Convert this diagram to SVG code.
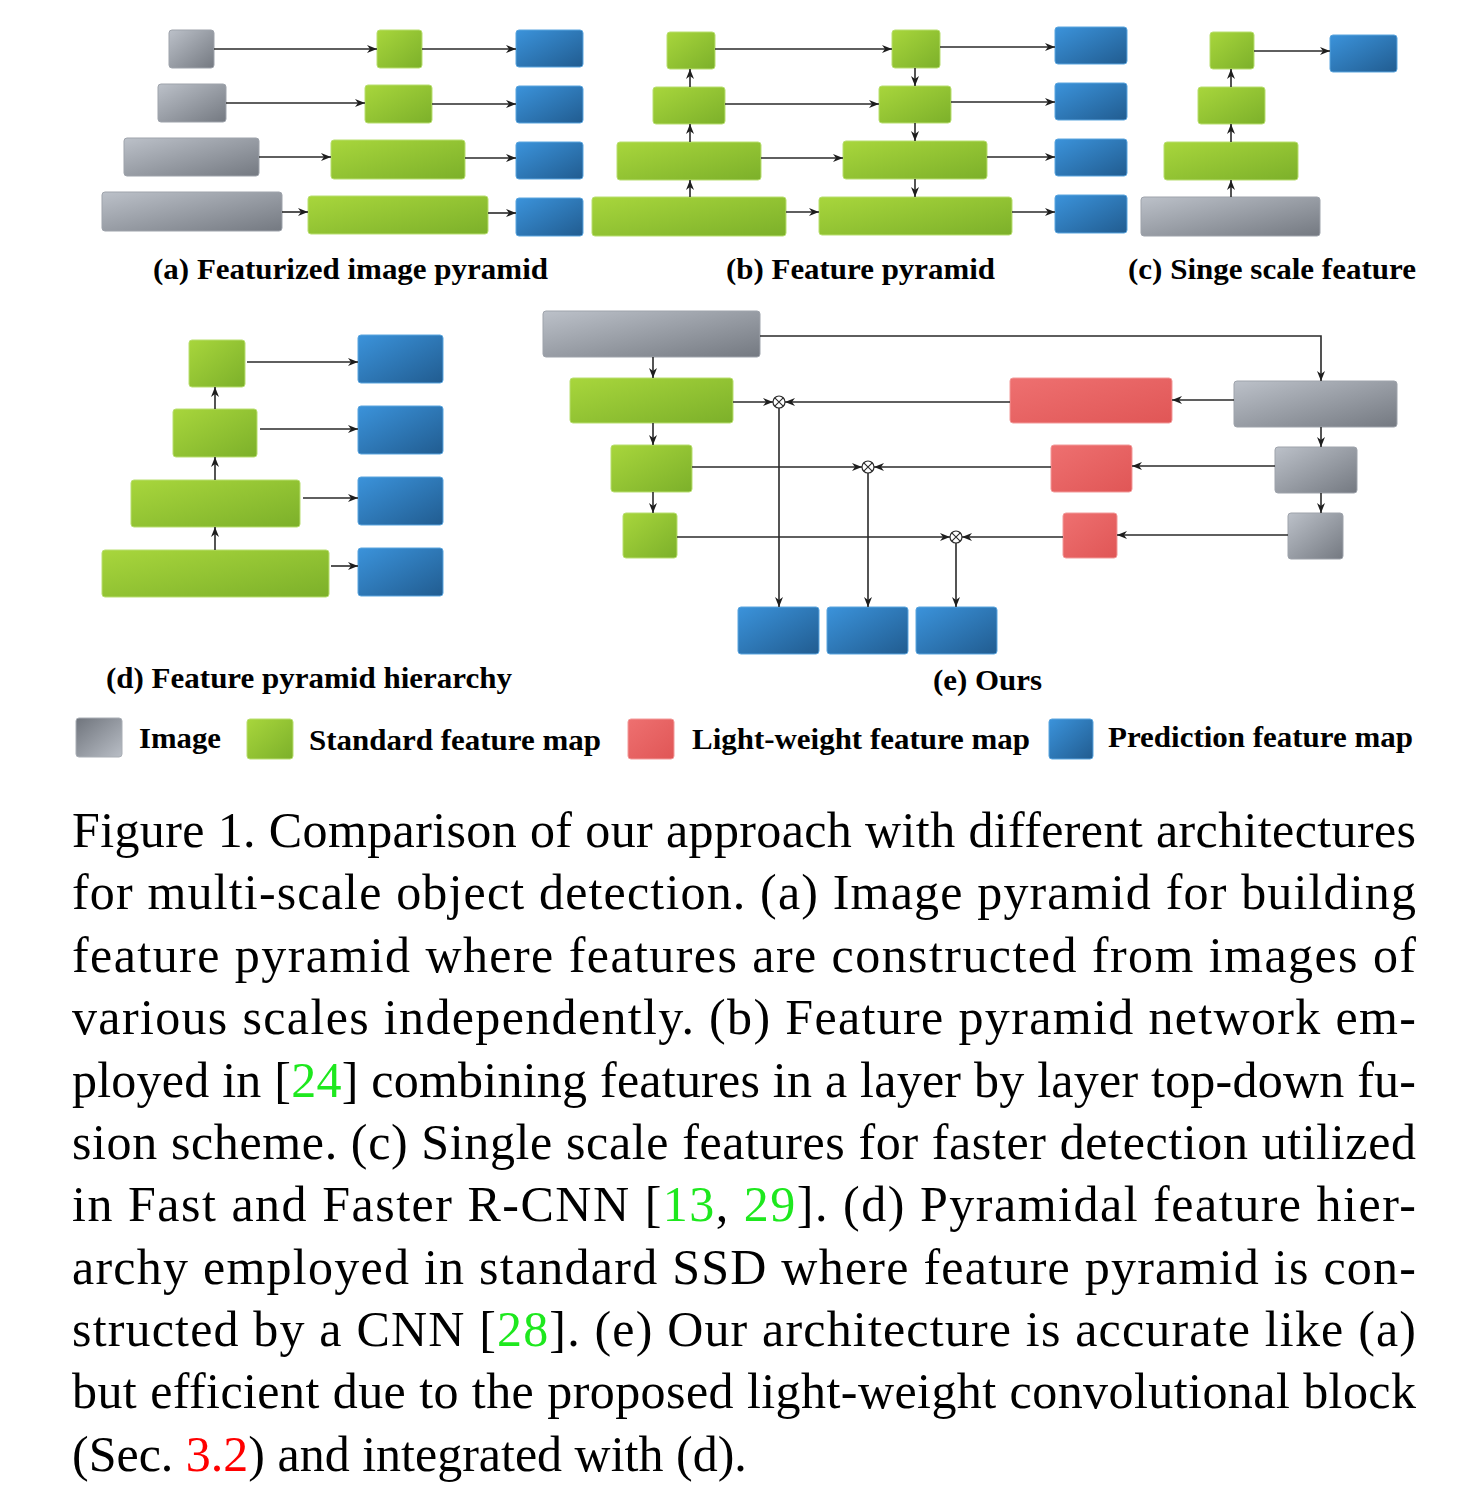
<svg xmlns="http://www.w3.org/2000/svg" width="1480" height="1498" viewBox="0 0 1480 1498">
<defs>
<linearGradient id="gGray" x1="0" y1="0" x2="1" y2="1"><stop offset="0" stop-color="#bcc1c9"/><stop offset="1" stop-color="#747981"/></linearGradient>
<linearGradient id="gGreen" x1="0" y1="0" x2="1" y2="1"><stop offset="0" stop-color="#a8d63c"/><stop offset="1" stop-color="#7cb02a"/></linearGradient>
<linearGradient id="gBlue" x1="0" y1="0" x2="1" y2="1"><stop offset="0" stop-color="#3b93db"/><stop offset="1" stop-color="#215c90"/></linearGradient>
<linearGradient id="gRed" x1="0" y1="0" x2="1" y2="1"><stop offset="0" stop-color="#ee7070"/><stop offset="1" stop-color="#e05656"/></linearGradient>
<linearGradient id="gGrayL" x1="0" y1="0" x2="1" y2="1"><stop offset="0" stop-color="#6f747c"/><stop offset="1" stop-color="#b9bec6"/></linearGradient>
<marker id="ah" viewBox="0 0 10 10" refX="10" refY="5" markerWidth="10" markerHeight="10" markerUnits="userSpaceOnUse" orient="auto"><path d="M0,1 L10,5 L0,9 L3,5 z" fill="#1e1e1e"/></marker>
</defs>
<style>
.gray{fill:url(#gGray);stroke:#9ea3ab;stroke-width:1}
.green{fill:url(#gGreen);stroke:#b8de70;stroke-width:1}
.blue{fill:url(#gBlue);stroke:#5aa5de;stroke-width:1}
.red{fill:url(#gRed);stroke:#f29a9a;stroke-width:1}
.ln{stroke:#2a2a2a;stroke-width:1.6;fill:none}
.ar{stroke:#2a2a2a;stroke-width:1.6;fill:none;marker-end:url(#ah)}
.ot{stroke:#2a2a2a;stroke-width:1.2;fill:#fff}
.lbl{font-family:"Liberation Serif","Times New Roman",serif;font-weight:bold;font-size:30px;fill:#000}
.cap{font-family:"Liberation Serif","Times New Roman",serif;font-size:50px;fill:#000}
.gr{fill:#1ee81e}
.rd{fill:#ff0000}
</style>
<rect width="1480" height="1498" fill="#fff"/>

<!-- Panel (a) -->
<g id="a-img1"><rect class="gray" x="169" y="30" width="45" height="38" rx="3"/></g>
<g id="a-img2"><rect class="gray" x="158" y="84" width="68" height="38" rx="3"/></g>
<g id="a-img3"><rect class="gray" x="124" y="138" width="135" height="38" rx="3"/></g>
<g id="a-img4"><rect class="gray" x="102" y="192" width="180" height="39" rx="3"/></g>
<g id="a-f1"><rect class="green" x="377" y="30" width="45" height="38" rx="3"/></g>
<g id="a-f2"><rect class="green" x="365" y="85" width="67" height="38" rx="3"/></g>
<g id="a-f3"><rect class="green" x="331" y="140" width="134" height="39" rx="3"/></g>
<g id="a-f4"><rect class="green" x="308" y="196" width="180" height="38" rx="3"/></g>
<g id="a-p1"><rect class="blue" x="516" y="30" width="67" height="37" rx="3"/></g>
<g id="a-p2"><rect class="blue" x="516" y="86" width="67" height="37" rx="3"/></g>
<g id="a-p3"><rect class="blue" x="516" y="142" width="67" height="37" rx="3"/></g>
<g id="a-p4"><rect class="blue" x="516" y="198" width="67" height="38" rx="3"/></g>

<!-- Panel (b) -->
<g id="b-l1"><rect class="green" x="667" y="32" width="48" height="37" rx="3"/></g>
<g id="b-l2"><rect class="green" x="653" y="87" width="72" height="37" rx="3"/></g>
<g id="b-l3"><rect class="green" x="617" y="142" width="144" height="38" rx="3"/></g>
<g id="b-l4"><rect class="green" x="592" y="197" width="194" height="39" rx="3"/></g>
<g id="b-m1"><rect class="green" x="892" y="30" width="48" height="38" rx="3"/></g>
<g id="b-m2"><rect class="green" x="879" y="86" width="72" height="37" rx="3"/></g>
<g id="b-m3"><rect class="green" x="843" y="141" width="144" height="38" rx="3"/></g>
<g id="b-m4"><rect class="green" x="819" y="197" width="193" height="38" rx="3"/></g>
<g id="b-p1"><rect class="blue" x="1055" y="27" width="72" height="37" rx="3"/></g>
<g id="b-p2"><rect class="blue" x="1055" y="83" width="72" height="37" rx="3"/></g>
<g id="b-p3"><rect class="blue" x="1055" y="139" width="72" height="37" rx="3"/></g>
<g id="b-p4"><rect class="blue" x="1055" y="195" width="72" height="38" rx="3"/></g>

<!-- Panel (c) -->
<g id="c-f1"><rect class="green" x="1210" y="32" width="44" height="37" rx="3"/></g>
<g id="c-f2"><rect class="green" x="1198" y="87" width="67" height="37" rx="3"/></g>
<g id="c-f3"><rect class="green" x="1164" y="142" width="134" height="38" rx="3"/></g>
<g id="c-img"><rect class="gray" x="1141" y="197" width="179" height="39" rx="3"/></g>
<g id="c-p1"><rect class="blue" x="1330" y="35" width="67" height="37" rx="3"/></g>

<!-- Panel (d) -->
<g id="d-f1"><rect class="green" x="189" y="340" width="56" height="47" rx="3"/></g>
<g id="d-f2"><rect class="green" x="173" y="409" width="84" height="48" rx="3"/></g>
<g id="d-f3"><rect class="green" x="131" y="480" width="169" height="47" rx="3"/></g>
<g id="d-f4"><rect class="green" x="102" y="550" width="227" height="47" rx="3"/></g>
<g id="d-p1"><rect class="blue" x="358" y="335" width="85" height="48" rx="3"/></g>
<g id="d-p2"><rect class="blue" x="358" y="406" width="85" height="48" rx="3"/></g>
<g id="d-p3"><rect class="blue" x="358" y="477" width="85" height="48" rx="3"/></g>
<g id="d-p4"><rect class="blue" x="358" y="548" width="85" height="48" rx="3"/></g>

<!-- Panel (e) -->
<g id="e-img"><rect class="gray" x="543" y="311" width="217" height="46" rx="3"/></g>
<g id="e-f1"><rect class="green" x="570" y="378" width="163" height="45" rx="3"/></g>
<g id="e-f2"><rect class="green" x="611" y="445" width="81" height="47" rx="3"/></g>
<g id="e-f3"><rect class="green" x="623" y="513" width="54" height="45" rx="3"/></g>
<g id="e-r1"><rect class="red" x="1010" y="378" width="162" height="45" rx="3"/></g>
<g id="e-r2"><rect class="red" x="1051" y="445" width="81" height="47" rx="3"/></g>
<g id="e-r3"><rect class="red" x="1063" y="513" width="54" height="45" rx="3"/></g>
<g id="e-g1"><rect class="gray" x="1234" y="381" width="163" height="46" rx="3"/></g>
<g id="e-g2"><rect class="gray" x="1275" y="447" width="82" height="46" rx="3"/></g>
<g id="e-g3"><rect class="gray" x="1288" y="513" width="55" height="46" rx="3"/></g>
<g id="e-p1"><rect class="blue" x="738" y="607" width="81" height="47" rx="3"/></g>
<g id="e-p2"><rect class="blue" x="827" y="607" width="81" height="47" rx="3"/></g>
<g id="e-p3"><rect class="blue" x="916" y="607" width="81" height="47" rx="3"/></g>
<g id="e-x1"><circle class="ot" cx="779" cy="402" r="6"/><path class="ln" style="stroke-width:1.1" d="M774.8,397.8 L783.2,406.2 M783.2,397.8 L774.8,406.2"/></g>
<g id="e-x2"><circle class="ot" cx="868" cy="467" r="6"/><path class="ln" style="stroke-width:1.1" d="M863.8,462.8 L872.2,471.2 M872.2,462.8 L863.8,471.2"/></g>
<g id="e-x3"><circle class="ot" cx="956" cy="537" r="6"/><path class="ln" style="stroke-width:1.1" d="M951.8,532.8 L960.2,541.2 M960.2,532.8 L951.8,541.2"/></g>

<!-- Connectors -->
<g id="connectors">
<!-- (a) -->
<path class="ar" d="M214,49 H377"/>
<path class="ar" d="M226,103 H365"/>
<path class="ar" d="M259,157 H331"/>
<path class="ar" d="M282,212 H308"/>
<path class="ar" d="M422,49 H516"/>
<path class="ar" d="M432,104 H516"/>
<path class="ar" d="M465,158 H516"/>
<path class="ar" d="M488,213 H516"/>
<!-- (b) -->
<path class="ar" d="M690,87 V69"/>
<path class="ar" d="M690,142 V124"/>
<path class="ar" d="M690,197 V180"/>
<path class="ar" d="M715,49 H892"/>
<path class="ar" d="M725,104 H879"/>
<path class="ar" d="M761,158 H843"/>
<path class="ar" d="M786,212 H819"/>
<path class="ar" d="M915,68 V86"/>
<path class="ar" d="M915,123 V141"/>
<path class="ar" d="M915,179 V197"/>
<path class="ar" d="M940,47 H1055"/>
<path class="ar" d="M951,102 H1055"/>
<path class="ar" d="M987,157 H1055"/>
<path class="ar" d="M1012,212 H1055"/>
<!-- (c) -->
<path class="ar" d="M1231,197 V180"/>
<path class="ar" d="M1231,142 V124"/>
<path class="ar" d="M1231,87 V69"/>
<path class="ar" d="M1254,51 H1330"/>
<!-- (d) -->
<path class="ar" d="M215,550 V527"/>
<path class="ar" d="M215,480 V457"/>
<path class="ar" d="M215,409 V387"/>
<path class="ar" d="M247,362 H358"/>
<path class="ar" d="M260,429 H358"/>
<path class="ar" d="M303,498 H358"/>
<path class="ar" d="M331,566 H358"/>
<!-- (e) -->
<path class="ar" d="M653,357 V378"/>
<path class="ar" d="M653,423 V445"/>
<path class="ar" d="M653,492 V513"/>
<path class="ar" d="M760,336 H1321 V381"/>
<path class="ar" d="M1321,427 V447"/>
<path class="ar" d="M1321,493 V513"/>
<path class="ar" d="M1234,400 H1172"/>
<path class="ar" d="M1275,466 H1132"/>
<path class="ar" d="M1288,535 H1117"/>
<path class="ar" d="M733,402 H773"/>
<path class="ar" d="M1010,402 H785"/>
<path class="ar" d="M692,467 H862"/>
<path class="ar" d="M1051,467 H874"/>
<path class="ar" d="M677,537 H950"/>
<path class="ar" d="M1063,537 H962"/>
<path class="ar" d="M779,408 V607"/>
<path class="ar" d="M868,473 V607"/>
<path class="ar" d="M956,543 V607"/>
</g>

<!-- Panel labels -->
<text class="lbl" x="153" y="279" textLength="395" lengthAdjust="spacingAndGlyphs">(a) Featurized image pyramid</text>
<text class="lbl" x="726" y="279" textLength="269" lengthAdjust="spacingAndGlyphs">(b) Feature pyramid</text>
<text class="lbl" x="1128" y="279" textLength="288" lengthAdjust="spacingAndGlyphs">(c) Singe scale feature</text>
<text class="lbl" x="106" y="688" textLength="406" lengthAdjust="spacingAndGlyphs">(d) Feature pyramid hierarchy</text>
<text class="lbl" x="933" y="690" textLength="109" lengthAdjust="spacingAndGlyphs">(e) Ours</text>

<!-- Legend -->
<g id="legend">
<rect x="76" y="718" width="46" height="39" rx="3" fill="url(#gGrayL)" stroke="#a9aeb5"/>
<text class="lbl" x="139" y="748" textLength="82" lengthAdjust="spacingAndGlyphs">Image</text>
<rect x="247" y="719" width="46" height="40" rx="3" fill="url(#gGreen)" stroke="#b8de70"/>
<text class="lbl" x="309" y="750" textLength="292" lengthAdjust="spacingAndGlyphs">Standard feature map</text>
<rect x="628" y="719" width="46" height="40" rx="3" fill="url(#gRed)" stroke="#f29a9a"/>
<text class="lbl" x="692" y="749" textLength="338" lengthAdjust="spacingAndGlyphs">Light-weight feature map</text>
<rect x="1049" y="719" width="44" height="40" rx="3" fill="url(#gBlue)" stroke="#5aa5de"/>
<text class="lbl" x="1108" y="747" textLength="305" lengthAdjust="spacingAndGlyphs">Prediction feature map</text>
</g>

<!-- Caption -->
<g id="caption">
<text class="cap" x="72" y="847" textLength="1344" lengthAdjust="spacing">Figure 1. Comparison of our approach with different architectures</text>
<text class="cap" x="72" y="909" textLength="1344" lengthAdjust="spacing">for multi-scale object detection.  (a) Image pyramid for building</text>
<text class="cap" x="72" y="972" textLength="1344" lengthAdjust="spacing">feature pyramid where features are constructed from images of</text>
<text class="cap" x="72" y="1034" textLength="1344" lengthAdjust="spacing">various scales independently.  (b) Feature pyramid network em-</text>
<text class="cap" x="72" y="1097" textLength="1344" lengthAdjust="spacing">ployed in [<tspan class="gr">24</tspan>] combining features in a layer by layer top-down fu-</text>
<text class="cap" x="72" y="1159" textLength="1344" lengthAdjust="spacing">sion scheme. (c) Single scale features for faster detection utilized</text>
<text class="cap" x="72" y="1221" textLength="1344" lengthAdjust="spacing">in Fast and Faster R-CNN [<tspan class="gr">13</tspan>, <tspan class="gr">29</tspan>].  (d) Pyramidal feature hier-</text>
<text class="cap" x="72" y="1284" textLength="1344" lengthAdjust="spacing">archy employed in standard SSD where feature pyramid is con-</text>
<text class="cap" x="72" y="1346" textLength="1344" lengthAdjust="spacing">structed by a CNN [<tspan class="gr">28</tspan>].  (e) Our architecture is accurate like (a)</text>
<text class="cap" x="72" y="1408" textLength="1344" lengthAdjust="spacing">but efficient due to the proposed light-weight convolutional block</text>
<text class="cap" x="72" y="1471">(Sec. <tspan class="rd">3.2</tspan>) and integrated with (d).</text>
</g>
</svg>
